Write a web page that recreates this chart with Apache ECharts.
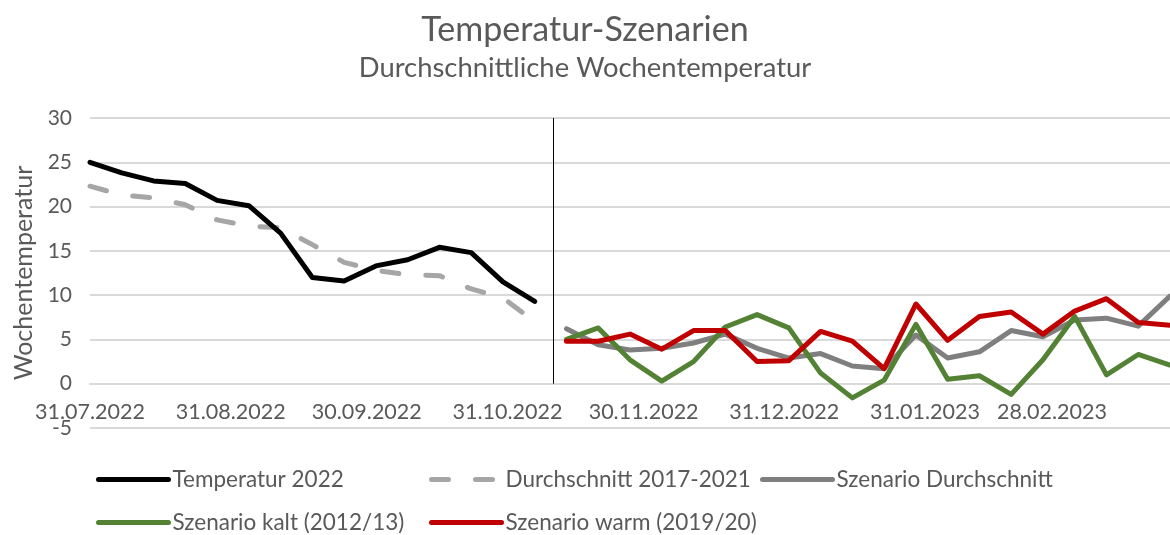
<!DOCTYPE html>
<html>
<head>
<meta charset="utf-8">
<script src="https://cdn.jsdelivr.net/npm/echarts@6/dist/echarts.min.js"></script>
<style>
  html, body { margin: 0; padding: 0; background: #fff; }
  #temperatur { width: 1170px; height: 535px; }
</style>
</head>
<body>
<div id="temperatur"></div>
<script>
// Wochen (Sonntag) 2022
var wochen2022 = ['2022-07-31', '2022-08-07', '2022-08-14', '2022-08-21', '2022-08-28',
  '2022-09-04', '2022-09-11', '2022-09-18', '2022-09-25', '2022-10-02', '2022-10-09',
  '2022-10-16', '2022-10-23', '2022-10-30', '2022-11-06'];
// Wochen Szenarien
var wochenSzenario = ['2022-11-13', '2022-11-20', '2022-11-27', '2022-12-04', '2022-12-11',
  '2022-12-18', '2022-12-25', '2023-01-01', '2023-01-08', '2023-01-15', '2023-01-22',
  '2023-01-29', '2023-02-05', '2023-02-12', '2023-02-19', '2023-02-26', '2023-03-05',
  '2023-03-12', '2023-03-19', '2023-03-26'];

var temperatur2022 = [25.0, 23.8, 22.9, 22.6, 20.7, 20.1, 17.0, 12.0, 11.6, 13.3, 14.0, 15.4, 14.8, 11.5, 9.3];
var durchschnitt1721 = [22.3, 21.3, 21.0, 20.2, 18.5, 17.8, 17.6, 15.7, 13.7, 12.8, 12.3, 12.2, 10.7, 9.7, 7.0];

var szenarioDurchschnitt = [6.2, 4.4, 3.8, 4.0, 4.6, 5.6, 4.0, 2.9, 3.4, 2.0, 1.7, 5.5, 2.9, 3.6, 6.0, 5.3, 7.2, 7.4, 6.5, 9.9];
var szenarioKalt = [5.0, 6.3, 2.7, 0.3, 2.5, 6.4, 7.8, 6.3, 1.2, -1.6, 0.4, 6.7, 0.5, 0.9, -1.2, 2.7, 7.6, 1.0, 3.3, 2.1];
var szenarioWarm = [4.8, 4.8, 5.6, 3.9, 6.0, 6.0, 2.5, 2.6, 5.9, 4.8, 1.7, 9.0, 4.9, 7.6, 8.1, 5.6, 8.2, 9.6, 6.9, 6.6];

var achsenDaten = ['2022-07-31', '2022-08-31', '2022-09-30', '2022-10-31', '2022-11-30',
  '2022-12-31', '2023-01-31', '2023-02-28'];
var trennDatum = '2022-11-10';

function ts(s) {
  var p = s.split('-');
  return new Date(+p[0], +p[1] - 1, +p[2]).getTime();
}
function paare(tage, werte) {
  return tage.map(function (t, i) { return [ts(t), werte[i]]; });
}
function zwei(n) { return (n < 10 ? '0' : '') + n; }

var schrift = 'Lato';
var grau = '#595959';

var chart = echarts.init(document.getElementById('temperatur'));

function legende(name, left, top) {
  return {
    data: [name],
    left: left,
    top: top,
    itemWidth: 70,
    itemHeight: 14,
    itemGap: 0,
    padding: 0,
    selectedMode: false,
    itemStyle: { opacity: 0 },
    lineStyle: { width: 5, cap: 'round' },
    textStyle: { fontFamily: schrift, fontSize: 22.5, color: grau, padding: [0, 0, 0, -1] }
  };
}

var option = {
  animation: false,
  title: {
    text: 'Temperatur-Szenarien',
    subtext: 'Durchschnittliche Wochentemperatur',
    left: 'center',
    top: 8,
    itemGap: 8,
    textStyle: { fontFamily: schrift, fontSize: 34, fontWeight: 'normal', color: grau },
    subtextStyle: { fontFamily: schrift, fontSize: 27.4, color: grau }
  },
  legend: [
    legende('Temperatur 2022', 96, 468),
    legende('Durchschnitt 2017-2021', 429, 468),
    legende('Szenario Durchschnitt', 760, 468),
    legende('Szenario kalt (2012/13)', 96, 511),
    legende('Szenario warm (2019/20)', 429, 511)
  ],
  grid: { left: 90, right: 0, top: 118, bottom: 107, containLabel: false },
  xAxis: {
    type: 'value',
    min: ts('2022-07-31'),
    max: ts('2023-03-26'),
    position: 'bottom',
    // Achse liegt auf der 0-Linie (5 Grad oberhalb des unteren Randes)
    offset: -44.3,
    axisLine: { show: true, onZero: false, lineStyle: { color: '#d9d9d9', width: 2 } },
    axisTick: { show: false },
    splitLine: { show: false },
    axisLabel: {
      customValues: achsenDaten.map(ts),
      hideOverlap: false,
      margin: 17,
      fontFamily: schrift,
      fontSize: 21.5,
      color: grau,
      formatter: function (v) {
        var d = new Date(v);
        return zwei(d.getDate()) + '.' + zwei(d.getMonth() + 1) + '.' + d.getFullYear();
      }
    }
  },
  yAxis: {
    type: 'value',
    min: -5,
    max: 30,
    interval: 5,
    name: 'Wochentemperatur',
    nameLocation: 'middle',
    nameGap: 52,
    nameTextStyle: { fontFamily: schrift, fontSize: 25, color: grau },
    axisLine: { show: false },
    axisTick: { show: false },
    axisLabel: { fontFamily: schrift, fontSize: 21, color: grau, margin: 18 },
    splitLine: { lineStyle: { color: '#d9d9d9', width: 2 } }
  },
  series: [
    {
      name: 'Temperatur 2022',
      type: 'line',
      symbol: 'none',
      data: paare(wochen2022, temperatur2022),
      lineStyle: { color: '#000000', width: 5, cap: 'round', join: 'round' },
      itemStyle: { color: '#000000' },
      markLine: {
        silent: true,
        symbol: 'none',
        label: { show: false },
        lineStyle: { color: '#000000', width: 1, type: 'solid' },
        data: [[{ coord: [ts(trennDatum), 0] }, { coord: [ts(trennDatum), 30] }]]
      },
      z: 5
    },
    {
      name: 'Durchschnitt 2017-2021',
      type: 'line',
      symbol: 'none',
      data: paare(wochen2022, durchschnitt1721),
      lineStyle: { color: '#a6a6a6', width: 5, type: [17, 27], cap: 'round', join: 'round' },
      itemStyle: { color: '#a6a6a6' },
      z: 4
    },
    {
      name: 'Szenario Durchschnitt',
      type: 'line',
      symbol: 'none',
      data: paare(wochenSzenario, szenarioDurchschnitt),
      lineStyle: { color: '#7f7f7f', width: 5, cap: 'round', join: 'round' },
      itemStyle: { color: '#7f7f7f' },
      z: 3
    },
    {
      name: 'Szenario kalt (2012/13)',
      type: 'line',
      symbol: 'none',
      data: paare(wochenSzenario, szenarioKalt),
      lineStyle: { color: '#548235', width: 5, cap: 'round', join: 'round' },
      itemStyle: { color: '#548235' },
      z: 4
    },
    {
      name: 'Szenario warm (2019/20)',
      type: 'line',
      symbol: 'none',
      data: paare(wochenSzenario, szenarioWarm),
      lineStyle: { color: '#c00000', width: 5, cap: 'round', join: 'round' },
      itemStyle: { color: '#c00000' },
      z: 5
    }
  ]
};
chart.setOption(option);
</script>
</body>
</html>
